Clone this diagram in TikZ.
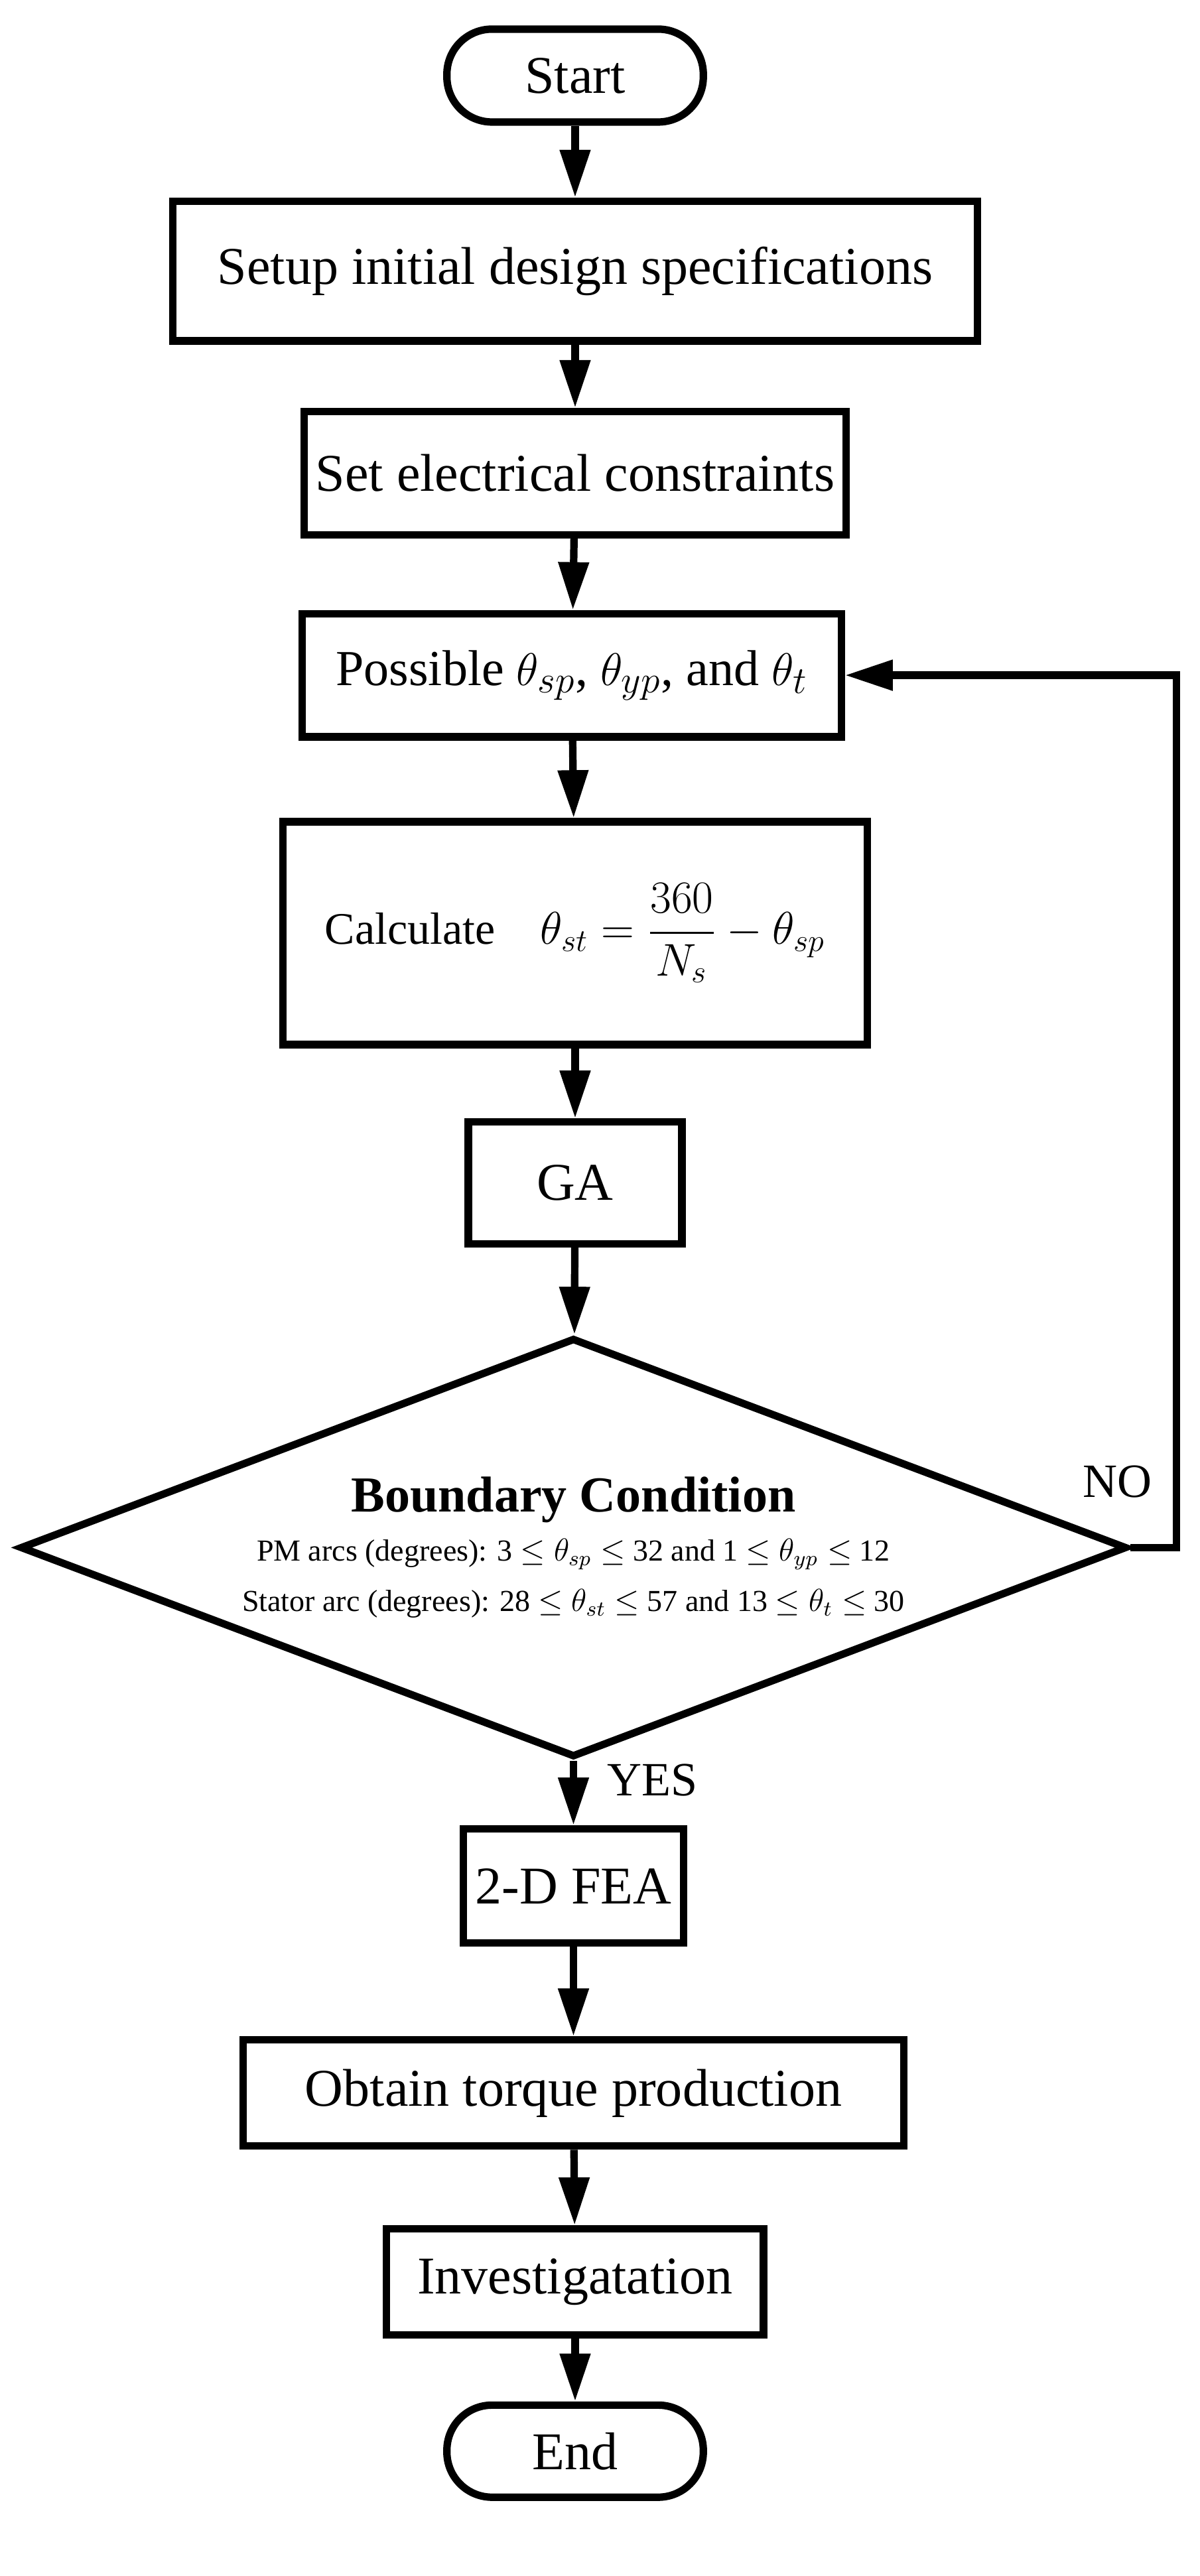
\documentclass[tikz,border=0pt]{standalone}
\usepackage{amsmath}
\usepackage{fontspec}
\setmainfont{Liberation Serif}
\usetikzlibrary{shapes.geometric,arrows.meta}
\begin{document}
\begin{tikzpicture}[x=0.619pt,y=-0.619pt,
  box/.style={draw,line width=2.8pt,rectangle,inner sep=0pt,font=\fontsize{20}{24}\selectfont},
  term/.style={box,rounded corners=17pt},
  arr/.style={line width=2.8pt,-{Triangle[length=18pt,width=11pt]}},
  lbl/.style={font=\fontsize{18}{21}\selectfont}]
\useasboundingbox (0,0) rectangle (730,1568);
\node[term,minimum width=96.6pt,minimum height=35pt] (start) at (350,46) {Start};
\node[box,minimum width=303pt,minimum height=52.6pt] (setup) at (350,165) {Setup initial design specifications};
\node[box,minimum width=204pt,minimum height=46.4pt] (elec) at (350,288) {Set electrical constraints};
\node[box,minimum width=203pt,minimum height=46.4pt,font=\fontsize{19}{23}\selectfont] (pos) at (348,411) {Possible \(\theta_{sp}\), \(\theta_{yp}\), and \(\theta_{t}\)};
\node[box,minimum width=220pt,minimum height=84pt,font=\fontsize{17}{21}\selectfont] (calc) at (350,568) {Calculate\quad \(\theta_{st}=\dfrac{360}{N_s}-\theta_{sp}\)};
\node[box,minimum width=80.5pt,minimum height=45.8pt] (ga) at (350,720) {GA};
\node[draw,line width=2.8pt,diamond,aspect=2.64,inner sep=0pt,minimum width=417pt,minimum height=158pt,align=center] (dia) at (349,942)
 {{\fontsize{19}{22}\selectfont\bfseries Boundary Condition}\\[5pt]
  {\fontsize{11.5}{14}\selectfont PM arcs (degrees): 3 \(\le\theta_{sp}\le\) 32 and 1 \(\le\theta_{yp}\le\) 12}\\[7pt]
  {\fontsize{11.5}{14}\selectfont Stator arc (degrees): 28 \(\le\theta_{st}\le\) 57 and 13 \(\le\theta_{t}\le\) 30}};
\node[box,minimum width=83pt,minimum height=43pt] (fea) at (349,1148) {2-D FEA};
\node[box,minimum width=249pt,minimum height=40pt] (torque) at (349,1274) {Obtain torque production};
\node[box,minimum width=142pt,minimum height=40pt] (inv) at (350,1389) {Investigatation};
\node[term,minimum width=96.6pt,minimum height=34.7pt] (end) at (350,1492) {End};
\draw[arr] (start) -- (setup);
\draw[arr] (setup) -- (elec);
\draw[arr] (elec) -- (pos);
\draw[arr] (pos) -- (calc);
\draw[arr] (calc) -- (ga);
\draw[arr] (ga) -- (dia);
\draw[arr] (dia) -- node[lbl,pos=0.3,right=8pt]{YES} (fea);
\draw[arr] (fea) -- (torque);
\draw[arr] (torque) -- (inv);
\draw[arr] (inv) -- (end);
\coordinate (r) at (716,942);
\draw[arr] (dia.east) -- (r) |- (pos.east);
\node[lbl] (no) at (680,902) {NO};
\end{tikzpicture}
\end{document}
